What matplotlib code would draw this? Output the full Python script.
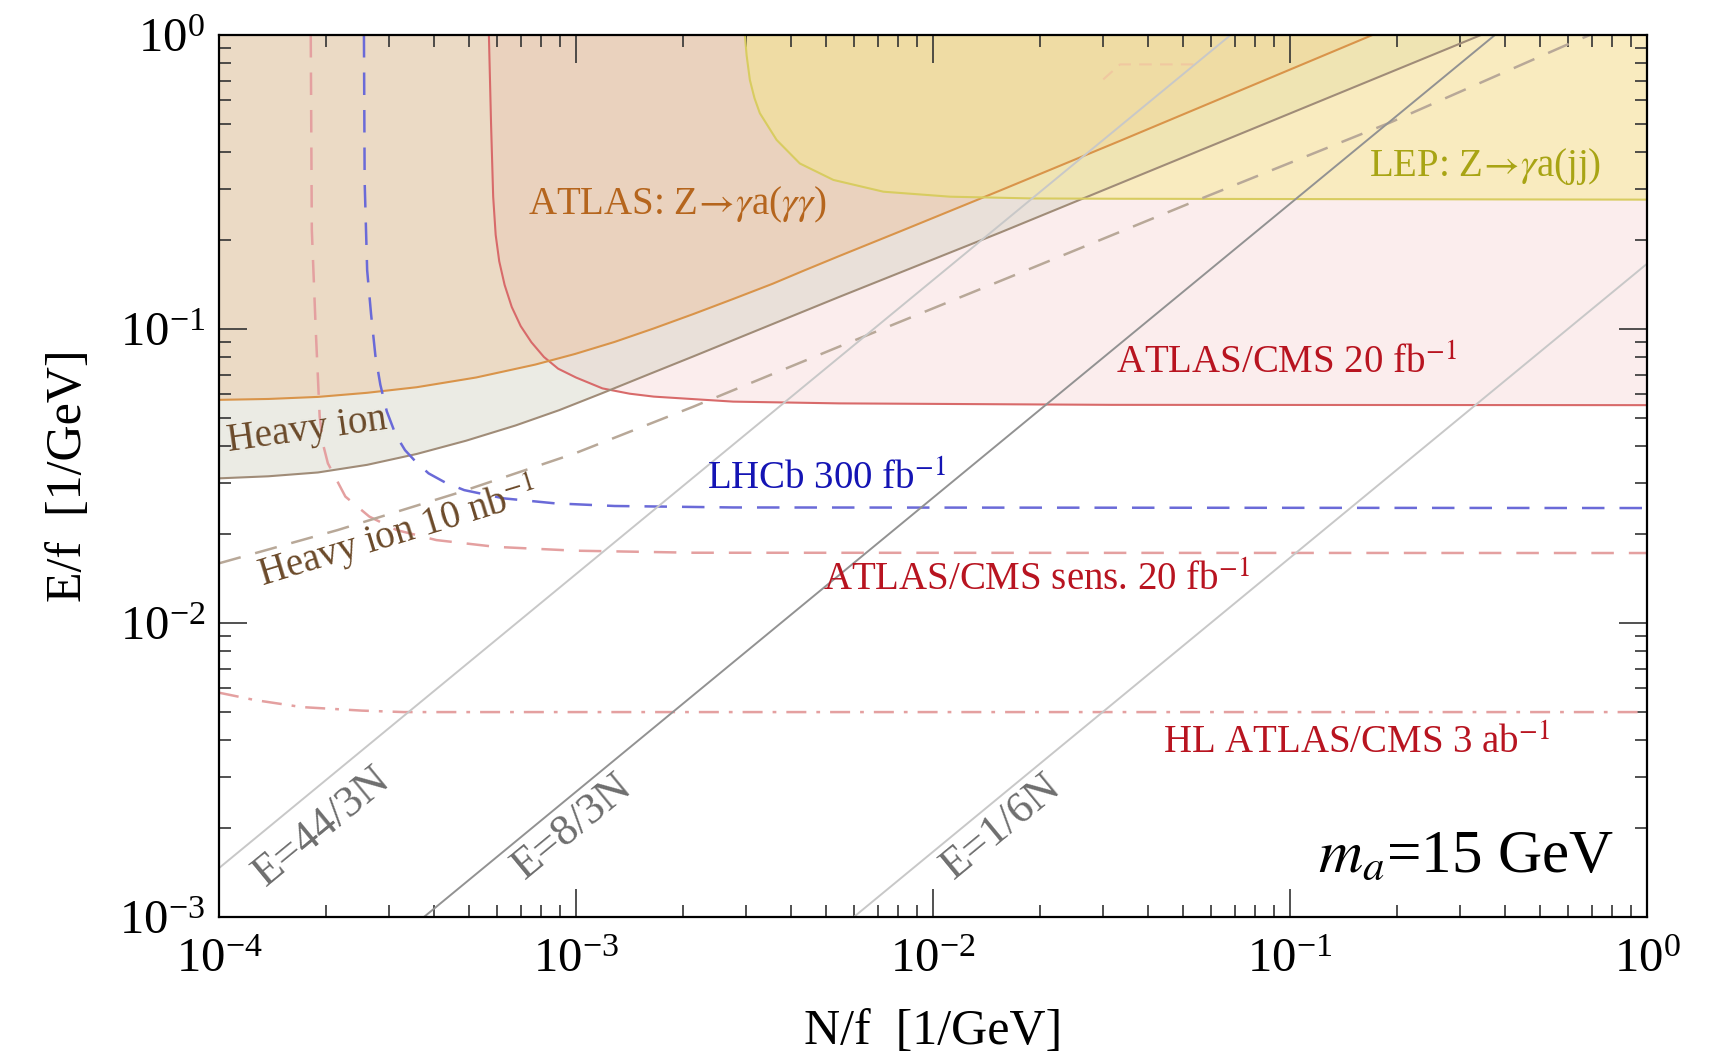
import numpy as np
import matplotlib
matplotlib.use("Agg")
import matplotlib.pyplot as plt
from matplotlib.ticker import LogLocator, NullFormatter

plt.rcParams['font.family'] = ['Liberation Serif', 'DejaVu Serif']
plt.rcParams['mathtext.fontset'] = 'stix'

# Valores, en log10 de (N/f, E/f)
atlas_gg_logN = [-4.0, -3.862, -3.723, -3.585, -3.446, -3.28, -3.114, -3.003, -2.892, -2.782,
                 -2.671, -2.56, -2.449, -2.361, -2.263, -2.092, -1.814, -1.476, -0.769]
atlas_gg_logE = [-1.241, -1.238, -1.231, -1.217, -1.198, -1.165, -1.121, -1.085, -1.044, -0.998,
                 -0.949, -0.898, -0.846, -0.801, -0.752, -0.668, -0.53, -0.36, 0.0]

heavy_logN = [-4.0, -3.862, -3.723, -3.585, -3.446, -3.308, -3.169, -3.047, -2.926, -2.798,
              -2.671, -2.56, -2.449, -2.263, -1.814, -0.465]
heavy_logE = [-1.508, -1.501, -1.488, -1.462, -1.425, -1.38, -1.328, -1.276, -1.218, -1.155,
              -1.093, -1.038, -0.983, -0.891, -0.673, 0.0]

atlas20_logN = [-3.244, -3.238, -3.232, -3.225, -3.215, -3.2, -3.18, -3.155, -3.125, -3.09, -3.05,
                -3.0, -2.926, -2.85, -2.782, -2.56, -2.263, -1.5, 0.0]
atlas20_logE = [0.0, -0.3, -0.55, -0.68, -0.77, -0.85, -0.925, -0.99, -1.045, -1.095, -1.135,
                -1.165, -1.202, -1.22, -1.23, -1.247, -1.253, -1.258, -1.259]

lep_logN = [-2.527, -2.522, -2.513, -2.50, -2.485, -2.438, -2.373, -2.279, -2.139, -1.952, -1.719, -1.476, 0.0]
lep_logE = [0.0, -0.07, -0.153, -0.215, -0.266, -0.357, -0.437, -0.493, -0.533, -0.55, -0.556, -0.557, -0.56]

lhcb_logN = [-3.594, -3.592, -3.585, -3.574, -3.562, -3.548, -3.53, -3.505, -3.479, -3.45, -3.413,
             -3.365, -3.313, -3.203, -3.059, -2.892, -2.56, 0.0]
lhcb_logE = [0.0, -0.5, -0.8, -0.95, -1.09, -1.19, -1.28, -1.36, -1.412, -1.45, -1.491,
             -1.523, -1.548, -1.576, -1.593, -1.602, -1.607, -1.609]

sens_logN = [-3.743, -3.74, -3.729, -3.718, -3.709, -3.695, -3.646, -3.579, -3.502, -3.391,
             -3.225, -3.003, -2.671, 0.0]
sens_logE = [0.0, -0.663, -1.003, -1.298, -1.39, -1.457, -1.57, -1.638, -1.684, -1.718,
             -1.741, -1.754, -1.761, -1.762]

hl_logN = [-4.0, -3.9, -3.768, -3.6, -3.482, 0.0]
hl_logE = [-2.237, -2.262, -2.286, -2.298, -2.303, -2.303]

hi10_logN = [-4.0, -3.668, -3.335, -3.003, -2.671, -2.263, -1.79, -1.256, -0.72, -0.211, -0.16]
hi10_logE = [-1.797, -1.684, -1.559, -1.423, -1.264, -1.06, -0.826, -0.56, -0.298, -0.026, 0.0]

faint_logN = [-1.523, -1.476, -1.267]
faint_logE = [-0.151, -0.10, -0.10]

# Rectas E/f = k N/f
ratio_k = [44 / 3, 8 / 3, 1 / 6]
ratio_labels = ['E=44/3N', 'E=8/3N', 'E=1/6N']
ratio_label_logN = [-3.711, -3.011, -1.81]
ratio_label_logE = [-2.694, -2.694, -2.694]


def p(a):
    return 10.0 ** np.array(a)


W, H = 1736, 1059
fig = plt.figure(figsize=(W / 100, H / 100), dpi=100)
ax = fig.add_axes([219 / W, 1 - 917 / H, (1647 - 219) / W, (917 - 35) / H])
ax.set_xscale('log')
ax.set_yscale('log')
ax.set_xlim(1e-4, 1)
ax.set_ylim(1e-3, 1)

# Regiones rellenas
ax.fill(np.append(p(atlas20_logN), 1), np.append(p(atlas20_logE), 1),
        color='#F2C4C4', alpha=0.3, lw=0, zorder=1)
ax.fill(np.append(p(heavy_logN), 1e-4), np.append(p(heavy_logE), 1),
        color='#C8C8B4', alpha=0.35, lw=0, zorder=1)
ax.fill(np.append(p(atlas_gg_logN), 1e-4), np.append(p(atlas_gg_logE), 1),
        color='#EDB078', alpha=0.28, lw=0, zorder=1)
ax.fill(np.append(p(lep_logN), 1), np.append(p(lep_logE), 1),
        color='#F8EA80', alpha=0.42, lw=0, zorder=1)

# Bordes
ax.plot(p(atlas20_logN), p(atlas20_logE), color='#D86A6A', lw=1.5, zorder=2)
ax.plot(p(heavy_logN), p(heavy_logE), color='#A08C78', lw=1.5, zorder=2)
ax.plot(p(atlas_gg_logN), p(atlas_gg_logE), color='#D9944A', lw=1.5, zorder=2)
ax.plot(p(lep_logN), p(lep_logE), color='#D8CC60', lw=1.5, zorder=2)

# Curvas de sensibilidad
ax.plot(p(lhcb_logN), p(lhcb_logE), color='#6A6AD8', lw=1.8, ls=(0, (9, 6)), zorder=2)
ax.plot(p(sens_logN), p(sens_logE), color='#E4A0A0', lw=1.8, ls=(0, (9, 6)), zorder=2)
ax.plot(p(hl_logN), p(hl_logE), color='#E4A0A0', lw=1.8, ls=(0, (8, 4, 1.5, 4)), zorder=2)
ax.plot(p(hi10_logN), p(hi10_logE), color='#B8A898', lw=1.8, ls=(0, (9, 6)), zorder=2)
ax.plot(p(faint_logN), p(faint_logE), color='#F0C8A0', lw=1.5, ls=(0, (6, 4)), zorder=2)

# Rectas E = k N
nn = np.array([1e-4, 1.0])
ratio_colors = ['#C8C8C8', '#929292', '#C8C8C8']
for k, c in zip(ratio_k, ratio_colors):
    ax.plot(nn, k * nn, color=c, lw=1.4, zorder=2)

p1 = ax.transData.transform((1e-3, 1e-3))
p2 = ax.transData.transform((1e-2, 1e-2))
ang = np.degrees(np.arctan2(p2[1] - p1[1], p2[0] - p1[0]))
for lab, lx, ly in zip(ratio_labels, ratio_label_logN, ratio_label_logE):
    ax.text(10 ** lx, 10 ** ly, lab, rotation=ang, rotation_mode='anchor',
            ha='center', va='center', fontsize=32, color='#6E6E6E', zorder=3)

# Etiquetas
fs = 28
ax.text(10 ** -2.716, 10 ** -0.578, r'ATLAS: Z$\!\rightarrow\!\gamma$a($\gamma\gamma$)',
        color='#B5651D', fontsize=fs, ha='center', va='center', zorder=3)
ax.text(10 ** -0.454, 10 ** -0.448, r'LEP: Z$\!\rightarrow\!\gamma$a(jj)',
        color='#A8A414', fontsize=fs, ha='center', va='center', zorder=3)
ax.text(10 ** -1.010, 10 ** -1.118, r'ATLAS/CMS 20 fb$^{-1}$',
        color='#B81420', fontsize=fs, ha='center', va='center', zorder=3)
ax.text(10 ** -2.297, 10 ** -1.512, r'LHCb 300 fb$^{-1}$',
        color='#1414B4', fontsize=fs, ha='center', va='center', zorder=3)
ax.text(10 ** -1.709, 10 ** -1.858, r'ATLAS/CMS sens. 20 fb$^{-1}$',
        color='#B81420', fontsize=fs, ha='center', va='center', zorder=3)
ax.text(10 ** -0.812, 10 ** -2.412, r'HL ATLAS/CMS 3 ab$^{-1}$',
        color='#B81420', fontsize=fs, ha='center', va='center', zorder=3)
ax.text(10 ** -3.753, 10 ** -1.344, 'Heavy ion', rotation=8, rotation_mode='anchor',
        color='#6B4A2A', fontsize=fs, ha='center', va='center', zorder=3)
ax.text(10 ** -3.5, 10 ** -1.694, r'Heavy ion 10 nb$^{-1}$', rotation=17, rotation_mode='anchor',
        color='#6B4A2A', fontsize=fs, ha='center', va='center', zorder=3)
ax.text(10 ** -0.092, 10 ** -2.796, r'$m_a$=15 GeV', color='black', fontsize=44,
        ha='right', va='center', zorder=3)

# Ejes
ax.set_xlabel('N/f  [1/GeV]', fontsize=36, labelpad=19)
ax.set_ylabel('E/f  [1/GeV]', fontsize=36, labelpad=20)

for a in (ax.xaxis, ax.yaxis):
    a.set_major_locator(LogLocator(base=10, numticks=10))
    a.set_minor_locator(LogLocator(base=10, subs=np.arange(2, 10), numticks=20))
    a.set_minor_formatter(NullFormatter())
ax.tick_params(which='both', direction='in', top=True, right=True, width=1.2, color='#333333')
ax.tick_params(which='major', length=20)
ax.tick_params(which='minor', length=8.5)
ax.tick_params(axis='x', which='major', labelsize=35, pad=15)
ax.tick_params(axis='y', which='major', labelsize=35, pad=10)
for s in ax.spines.values():
    s.set_linewidth(1.6)

fig.savefig('out.png', dpi=100)
